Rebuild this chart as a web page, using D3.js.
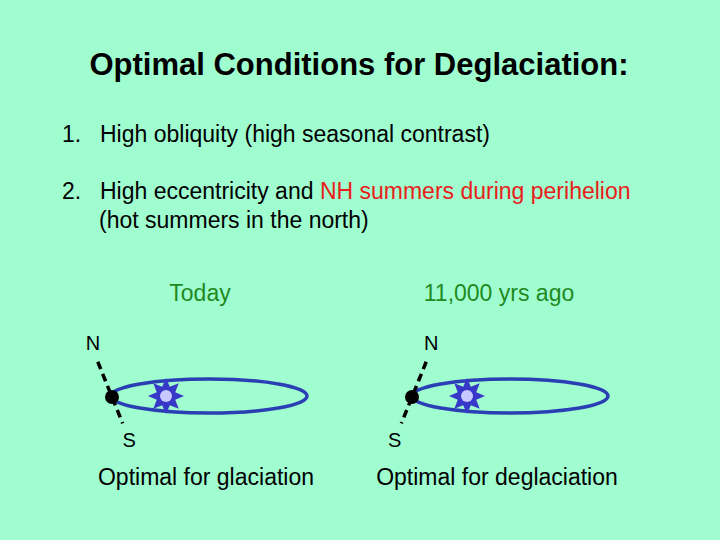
<!DOCTYPE html>
<html><head><meta charset="utf-8">
<script src="https://cdn.jsdelivr.net/npm/d3@7"></script>
<style>body{margin:0;background:#9ffdd0}</style>
</head><body>
<script>
var panelTitles = ["Today", "11,000 yrs ago"];
var panelCaptions = ["Optimal for glaciation", "Optimal for deglaciation"];
var orbitCenters = [209, 510];
var sunX = [166, 467];
var earthX = [112, 412];
var axisTilt = [-22, 22]; // degrees from vertical, N end

var svg = d3.select("body").append("svg")
    .attr("width", 720).attr("height", 540)
    .style("font-family", "Liberation Sans, Arial, sans-serif");

svg.append("rect").attr("width", 720).attr("height", 540).attr("fill", "#9ffdd0");

svg.append("text").attr("x", 359).attr("y", 75).attr("text-anchor", "middle")
    .attr("font-size", 31).attr("font-weight", "bold").text("Optimal Conditions for Deglaciation:");

svg.append("text").attr("x", 62).attr("y", 142).attr("font-size", 23).text("1.");
svg.append("text").attr("x", 100).attr("y", 142).attr("font-size", 23).text("High obliquity (high seasonal contrast)");
svg.append("text").attr("x", 62).attr("y", 199).attr("font-size", 23).text("2.");
var t2 = svg.append("text").attr("x", 100).attr("y", 199).attr("font-size", 23);
t2.append("tspan").text("High eccentricity and ");
t2.append("tspan").attr("fill", "#e8201a").text("NH summers during perihelion");
svg.append("text").attr("x", 99).attr("y", 228).attr("font-size", 23).text("(hot summers in the north)");

var starPts = d3.range(16).map(function (i) {
  var a = i * Math.PI / 8 - Math.PI / 2, r = i % 2 ? 10 : 18;
  return [r * Math.cos(a), r * Math.sin(a)];
});

var titleX = [200, 499];
var captionX = [206, 497];

panelTitles.forEach(function (t, i) {
  var g = svg.append("g");
  g.append("text").attr("x", titleX[i]).attr("y", 301).attr("text-anchor", "middle")
    .attr("font-size", 23).attr("fill", "#1f8a1f").text(t);
  g.append("text").attr("x", captionX[i]).attr("y", 485).attr("text-anchor", "middle")
    .attr("font-size", 23).text(panelCaptions[i]);
  g.append("ellipse").attr("cx", orbitCenters[i]).attr("cy", 396).attr("rx", 98).attr("ry", 17)
    .attr("fill", "none").attr("stroke", "#2b3fb5").attr("stroke-width", 3.5);
  var sg = g.append("g").attr("transform", "translate(" + sunX[i] + ",396)");
  sg.append("polygon").attr("points", starPts.map(function (p) { return p.join(","); }).join(" "))
    .attr("fill", "#3838c8");
  sg.append("circle").attr("r", 6).attr("fill", "#c8c8ff");
  var a = axisTilt[i] * Math.PI / 180, L = 38;
  var ex = earthX[i], ey = 397;
  g.append("line")
    .attr("x1", ex + L * Math.sin(a)).attr("y1", ey - L * Math.cos(a))
    .attr("x2", ex - L * 0.75 * Math.sin(a)).attr("y2", ey + L * 0.75 * Math.cos(a))
    .attr("stroke", "#000").attr("stroke-width", 3.5).attr("stroke-dasharray", "8,5");
  g.append("circle").attr("cx", ex).attr("cy", ey).attr("r", 7).attr("fill", "#000");
  g.append("text").attr("x", ex + (L + 13) * Math.sin(a)).attr("y", ey - (L + 13) * Math.cos(a))
    .attr("text-anchor", "middle").attr("font-size", 20).text("N");
  g.append("text").attr("x", ex - (L + 8) * Math.sin(a)).attr("y", ey + (L + 8) * Math.cos(a) + 7)
    .attr("text-anchor", "middle").attr("font-size", 20).text("S");
});
</script>
</body></html>
